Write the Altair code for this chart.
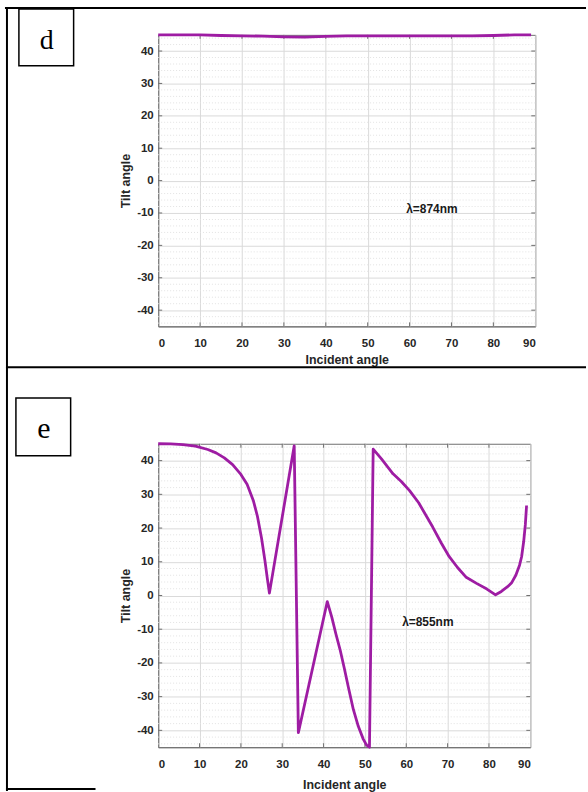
import altair as alt
import pandas as pd

# Panel d: tilt angle against incident angle, lambda = 874 nm
angle_d = [0, 5, 10, 15, 20, 25, 30, 35, 40, 45, 50, 55, 60, 65, 70, 75, 80, 85, 89]
tilt_d = [45, 45, 45, 44.8, 44.7, 44.6, 44.4, 44.3, 44.5, 44.7, 44.7, 44.7,
          44.7, 44.7, 44.7, 44.7, 44.8, 45, 45]

# Panel e: tilt angle against incident angle, lambda = 855 nm
angle_e = [0, 3, 6, 9, 12, 14, 16, 18, 20, 21.5, 23, 24, 25, 25.8, 26.4, 26.9,
           32.9, 33.9,
           40.9, 42, 43, 44, 45, 46, 47.2, 48.4, 49.6, 50.4, 51.1,
           52.0, 54, 56.8, 58.8, 60.8, 63, 66.4, 68.5, 70.4, 72.4, 74.4, 77, 79.5, 81.6,
           83, 84.5, 85.5, 86.5, 87.4, 87.9, 88.4, 88.8, 89.1]
tilt_e = [45, 44.95, 44.75, 44.3, 43.3, 42.3, 40.8, 38.8, 35.9, 33, 28.2, 23.5, 17, 10.5, 5, 0.7,
          44.4, -40.7,
          -1.8, -6.5, -11.5, -16.1, -21.5, -27.2, -33.8, -38.8, -42.6, -44.4, -45,
          43.4, 40.5, 36.1, 33.8, 31.1, 27.5, 20.3, 15.5, 11.5, 8.3, 5.5, 3.6, 1.9, 0.2,
          1.2, 2.6, 3.8, 6, 9, 11.5, 16, 21, 26.7]

x_ticks = [0, 10, 20, 30, 40, 50, 60, 70, 80, 90]
y_ticks = [-40, -30, -20, -10, 0, 10, 20, 30, 40]
y_minor = [v for v in range(-44, 45, 2) if v % 10 != 0]

LINE_COLOR = "#9E1CA3"
FRAME = "#6F6F6F"
TEXT = "#262626"
FONT = "Liberation Sans"

one = pd.DataFrame({"k": [0]})


def rule(x1, x2, y1, y2, width=2, color="black"):
    return alt.Chart(one).mark_rule(color=color, strokeWidth=width).encode(
        x=alt.value(x1), x2=alt.value(x2), y=alt.value(y1), y2=alt.value(y2)
    )


def letter_box(x1, x2, y1, y2, letter, tx, ty, size):
    box = alt.Chart(one).mark_rect(fill="white", stroke="black", strokeWidth=1.5).encode(
        x=alt.value(x1), x2=alt.value(x2), y=alt.value(y1), y2=alt.value(y2)
    )
    txt = alt.Chart(one).mark_text(
        font="Liberation Serif", fontSize=size, align="center",
        baseline="alphabetic", color="black"
    ).encode(x=alt.value(tx), y=alt.value(ty), text=alt.value(letter))
    return [box, txt]


def panel(angles, tilts, lam_text, lam_x, lam_y, width, height, title_pad, extras):
    xs = alt.Scale(domain=[0, 90], nice=False, zero=False)
    ys = alt.Scale(domain=[-45, 45], nice=False, zero=False)
    x_axis = alt.Axis(
        values=x_ticks, grid=True, gridColor="#DADADA", gridWidth=1,
        tickSize=0, labelPadding=11, labelFont=FONT, labelFontSize=11.5,
        labelFontWeight="bold", labelColor=TEXT, domainColor=FRAME,
        labelExpr="'' + datum.value",
        title="Incident angle", titleFont=FONT, titleFontSize=12.5,
        titleFontWeight="bold", titleColor=TEXT, titlePadding=title_pad,
    )
    y_axis = alt.Axis(
        values=y_ticks, grid=True, gridColor="#DADADA", gridWidth=1,
        tickSize=0, labelPadding=5, labelFont=FONT, labelFontSize=11.5,
        labelFontWeight="bold", labelColor=TEXT, domainColor=FRAME,
        labelExpr="'' + datum.value",
        title="Tilt angle", titleFont=FONT, titleFontSize=12.5,
        titleFontWeight="bold", titleColor=TEXT, titlePadding=4,
    )

    minor = alt.Chart(pd.DataFrame({"v": y_minor})).mark_rule(
        color="#E2E2E2", strokeDash=[1, 2], strokeWidth=1
    ).encode(y=alt.Y("v:Q", scale=ys, axis=y_axis), x=alt.value(0), x2=alt.value(width))

    xt = pd.DataFrame({"t": x_ticks[1:-1]})
    yt = pd.DataFrame({"t": y_ticks})
    ticks = [
        alt.Chart(xt).mark_rule(color=FRAME).encode(
            x=alt.X("t:Q", scale=xs, axis=x_axis), y=alt.value(height), y2=alt.value(height - 4)),
        alt.Chart(xt).mark_rule(color=FRAME).encode(
            x=alt.X("t:Q", scale=xs, axis=x_axis), y=alt.value(0), y2=alt.value(4)),
        alt.Chart(yt).mark_rule(color=FRAME).encode(
            y=alt.Y("t:Q", scale=ys, axis=y_axis), x=alt.value(0), x2=alt.value(4)),
        alt.Chart(yt).mark_rule(color=FRAME).encode(
            y=alt.Y("t:Q", scale=ys, axis=y_axis), x=alt.value(width - 4), x2=alt.value(width)),
    ]

    curve = alt.Chart(pd.DataFrame({"angle": angles, "tilt": tilts})).mark_line(
        color=LINE_COLOR, strokeWidth=2.8, strokeJoin="round"
    ).encode(
        x=alt.X("angle:Q", scale=xs, axis=x_axis),
        y=alt.Y("tilt:Q", scale=ys, axis=y_axis),
        order="angle:Q",
    )

    lam = alt.Chart(pd.DataFrame({"x": [lam_x], "y": [lam_y], "label": [lam_text]})).mark_text(
        align="left", baseline="middle", font=FONT, fontSize=12,
        fontWeight="bold", color="#1A1A1A"
    ).encode(
        x=alt.X("x:Q", scale=xs, axis=x_axis),
        y=alt.Y("y:Q", scale=ys, axis=y_axis),
        text="label:N",
    )

    return alt.layer(minor, *ticks, curve, lam, *extras).properties(width=width, height=height)


# Panel origins on the page: d at (158, 32), e at (158, 443)
W_D, H_D = 379, 293
W_E, H_E = 374, 305

page = alt.Chart(one).mark_rect(fill="white", opacity=0).encode(
    x=alt.value(-158), x2=alt.value(430), y=alt.value(-32), y2=alt.value(760)
)

extras_d = [
    page,
    rule(-154, 430, -27, -27),      # top border
    rule(-152, -152, -28, 760),     # left border
    rule(-153, 430, 334, 334),      # separator between the two cells
    rule(-153, -63, 758, 758),      # bottom border stub
] + letter_box(-140, -85, -26, 31, "d", -112, 14, 28)

extras_e = letter_box(-143, -88, -46, 12, "e", -115, -6, 30)

panel_d = panel(angle_d, tilt_d, "λ=874nm", 59.2, -8.7, W_D, H_D, 5, extras_d)
panel_e = panel(angle_e, tilt_e, "λ=855nm", 59.0, -7.8, W_E, H_E, 9, extras_e)

chart = alt.vconcat(panel_d, panel_e, spacing=118, bounds="flush").properties(
    padding=0, background="white"
).configure_view(stroke=FRAME, strokeWidth=1)

chart.save("out.html", embed_options={"renderer": "svg", "actions": False})
